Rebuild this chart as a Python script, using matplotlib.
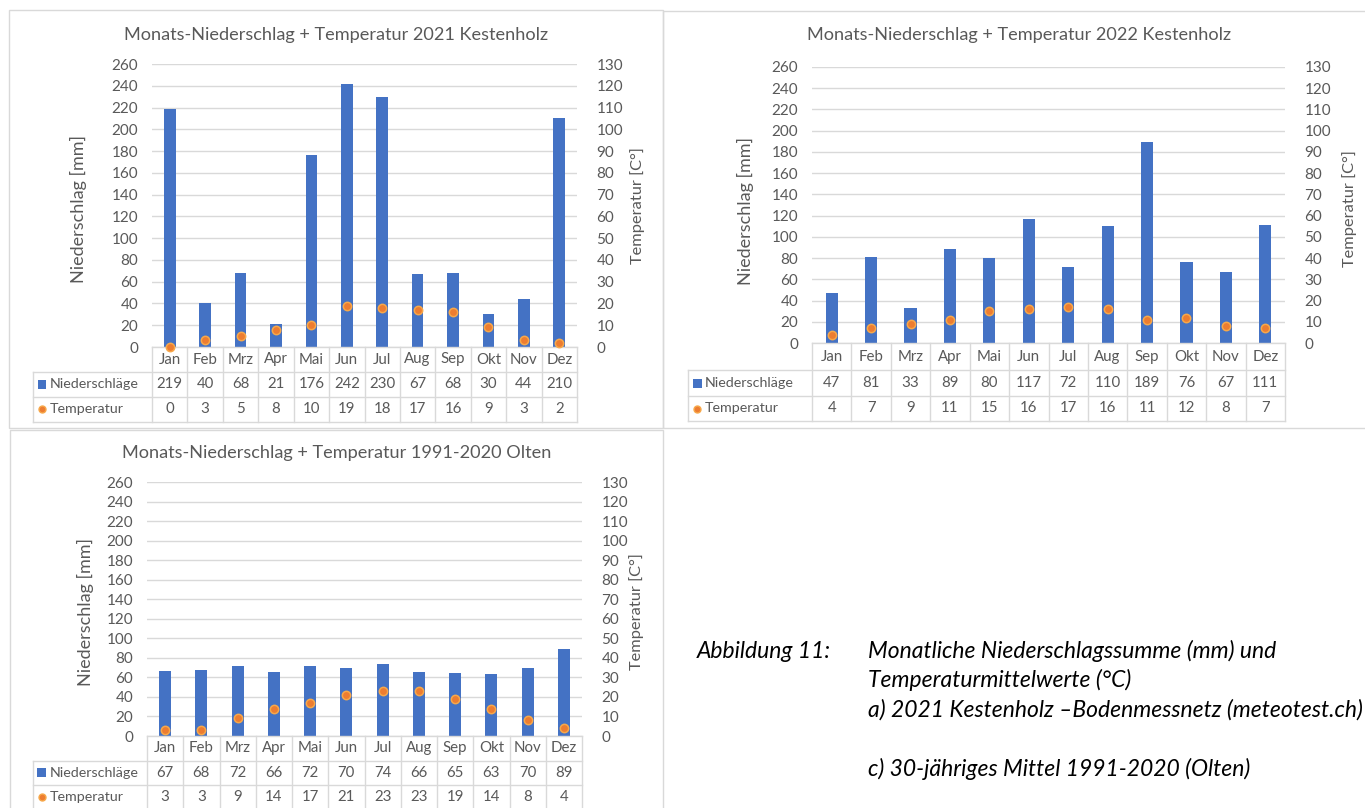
#!/usr/bin/env python3
"""Monthly precipitation + temperature charts (Excel style) with data tables."""

import matplotlib
matplotlib.use('Agg')
import matplotlib.pyplot as plt
from matplotlib.patches import Rectangle
from matplotlib.lines import Line2D

plt.rcParams['font.family'] = ['Lato', 'DejaVu Sans']

W, H = 1365, 808

BLUE = '#4472C4'
ORANGE = '#ED7D31'
ORANGE_EDGE = '#F7A84A'
TXT = '#595959'
GRID = '#D9D9D9'

months = ['Jan', 'Feb', 'Mrz', 'Apr', 'Mai', 'Jun', 'Jul', 'Aug', 'Sep', 'Okt', 'Nov', 'Dez']

rain_2021 = [219, 40, 68, 21, 176, 242, 230, 67, 68, 30, 44, 210]
temp_2021 = [0, 3, 5, 8, 10, 19, 18, 17, 16, 9, 3, 2]

rain_2022 = [47, 81, 33, 89, 80, 117, 72, 110, 189, 76, 67, 111]
temp_2022 = [4, 7, 9, 11, 15, 16, 17, 16, 11, 12, 8, 7]

rain_olten = [67, 68, 72, 66, 72, 70, 74, 66, 65, 63, 70, 89]
temp_olten = [3, 3, 9, 14, 17, 21, 23, 23, 19, 14, 8, 4]

titles = [
    'Monats-Niederschlag + Temperatur 2021 Kestenholz',
    'Monats-Niederschlag + Temperatur 2022 Kestenholz',
    'Monats-Niederschlag + Temperatur 1991-2020 Olten',
]


def fbox(x0, y0, x1, y1):
    """pixel box (top-left origin) -> figure fraction rect"""
    return [x0 / W, 1 - y1 / H, (x1 - x0) / W, (y1 - y0) / H]


def fx(x):
    return x / W


def fy(y):
    return 1 - y / H


fig = plt.figure(figsize=(W / 100, H / 100), dpi=100)
fig.patch.set_facecolor('white')

# layout of each panel in pixels
panels = [
    dict(frame=(9, 10, 663, 428), plot=(152, 64, 577, 347), rows=(347, 372, 397, 422),
         tleft=33, title=(336, 35), ylab=(78, 209), rlab=(638, 206), bw=0.33),
    dict(frame=(663, 11, 1380, 428), plot=(812, 67, 1285, 343), rows=(343, 370, 396, 421),
         tleft=688, title=(1019, 35), ylab=(745, 211), rlab=(1350, 209), bw=0.31),
    dict(frame=(10, 430, 663, 830), plot=(147, 482, 582, 736), rows=(736, 761, 785, 809),
         tleft=33, title=(337, 453), ylab=(85, 612), rlab=(637, 612), bw=0.33),
]
data = [(rain_2021, temp_2021), (rain_2022, temp_2022), (rain_olten, temp_olten)]

for p, (rain, temp), title in zip(panels, data, titles):
    # panel frame
    x0, y0, x1, y1 = p['frame']
    fig.patches.append(Rectangle((fx(x0), fy(y1)), (x1 - x0) / W, (y1 - y0) / H,
                                 transform=fig.transFigure, fill=False,
                                 edgecolor=GRID, linewidth=1.0))

    ax = fig.add_axes(fbox(*p['plot']))
    ax2 = ax.twinx()
    x = list(range(len(months)))
    ax.bar(x, rain, width=p['bw'], color=BLUE, zorder=2)
    ax2.plot(x, temp, linestyle='none', marker='o', markersize=6,
             markerfacecolor=ORANGE, markeredgecolor=ORANGE_EDGE,
             markeredgewidth=1.1, zorder=3, clip_on=False)

    ax.set_xlim(-0.5, 11.5)
    ax.set_ylim(0, 260)
    ax2.set_ylim(0, 130)
    ax.set_yticks(range(0, 261, 20))
    ax2.set_yticks(range(0, 131, 10))
    ax.set_xticks([])
    ax.grid(axis='y', color=GRID, linewidth=1.0, zorder=0)
    ax.set_axisbelow(True)
    for a in (ax, ax2):
        for s in a.spines.values():
            s.set_visible(False)
        a.tick_params(axis='y', length=0, labelsize=11, labelcolor=TXT)
    ax.tick_params(axis='y', pad=10)
    ax2.tick_params(axis='y', pad=14)
    ax2.set_zorder(ax.get_zorder() + 1)

    fig.text(fx(p['title'][0]), fy(p['title'][1]), title, ha='center', va='center',
             fontsize=13.1, color=TXT)
    fig.text(fx(p['ylab'][0]), fy(p['ylab'][1]), 'Niederschlag [mm]', rotation=90,
             ha='center', va='center', fontsize=13, color=TXT)
    fig.text(fx(p['rlab'][0]), fy(p['rlab'][1]), 'Temperatur [C°]', rotation=90,
             ha='center', va='center', fontsize=11.8, color=TXT)

    # data table below the plot, sharing the month scale
    r0, r1, r2, r3 = p['rows']
    px0, _, px1, _ = p['plot']
    tab = fig.add_axes(fbox(px0, r0, px1, r3), sharex=ax)
    tab.set_ylim(r3, r0)
    tab.axis('off')
    colw = (px1 - px0) / 12.0
    left = -0.5 - (px0 - p['tleft']) / colw
    lc = dict(color=GRID, linewidth=1.0, clip_on=False)
    # horizontal lines
    tab.plot([-0.5, 11.5], [r0, r0], **lc)
    for yy in (r1, r2, r3):
        tab.plot([left, 11.5], [yy, yy], **lc)
    # vertical lines
    for i in range(13):
        tab.plot([i - 0.5, i - 0.5], [r0, r3], **lc)
    tab.plot([left, left], [r1, r3], **lc)

    cy = [(r0 + r1) / 2, (r1 + r2) / 2, (r2 + r3) / 2]
    for i, m in enumerate(months):
        tab.text(i, cy[0], m, ha='center', va='center', fontsize=10.8, color=TXT)
        tab.text(i, cy[1], str(rain[i]), ha='center', va='center', fontsize=10.8, color=TXT)
        tab.text(i, cy[2], str(temp[i]), ha='center', va='center', fontsize=10.8, color=TXT)

    # legend keys in the label column
    kx = left + 4.5 / colw
    tab.add_patch(Rectangle((kx, cy[1] - 4.5), 9 / colw, 9, facecolor=BLUE,
                            edgecolor='none', clip_on=False))
    tab.add_line(Line2D([kx + 4.5 / colw], [cy[2]], marker='o', markersize=5,
                        markerfacecolor=ORANGE, markeredgecolor=ORANGE_EDGE,
                        markeredgewidth=1.0, clip_on=False))
    tab.text(kx + 12 / colw, cy[1], 'Niederschläge', ha='left', va='center',
             fontsize=10.3, color=TXT)
    tab.text(kx + 12 / colw, cy[2], 'Temperatur', ha='left', va='center',
             fontsize=10.3, color=TXT)

# caption
cap = dict(fontsize=16.5, style='italic', color='black', va='center', ha='left')
fig.text(fx(697), fy(651), 'Abbildung 11:', **cap)
fig.text(fx(868), fy(651), 'Monatliche Niederschlagssumme (mm) und', **cap)
fig.text(fx(868), fy(680), 'Temperaturmittelwerte (°C)', **cap)
fig.text(fx(868), fy(710), 'a) 2021 Kestenholz \u2013Bodenmessnetz (meteotest.ch)', **cap)
fig.text(fx(868), fy(769), 'c) 30-jähriges Mittel 1991-2020 (Olten)', **cap)

fig.savefig('out.png', dpi=100, facecolor='white')
